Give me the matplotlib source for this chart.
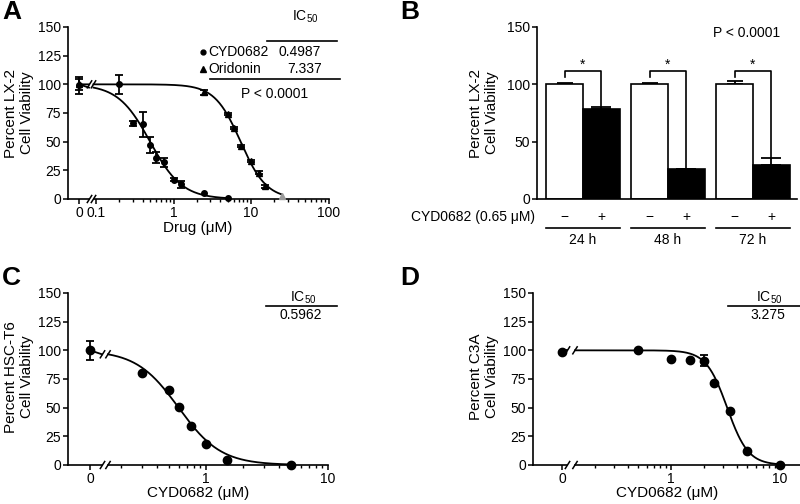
import numpy as np
import matplotlib
matplotlib.use("Agg")
from matplotlib import pyplot as plt
from matplotlib.lines import Line2D
from matplotlib.ticker import LogLocator, NullFormatter

plt.rcParams['font.family'] = ['Liberation Sans', 'DejaVu Sans']
plt.rcParams['mathtext.fontset'] = 'custom'
plt.rcParams['mathtext.rm'] = 'Liberation Sans'
plt.rcParams['axes.linewidth'] = 1.2

# ---------------- data ----------------
# A: LX-2 dose response (uM, % viability, error)
a_cyd_conc = [0, 0.2, 0.3, 0.4, 0.5, 0.6, 0.75, 1.0, 1.25, 2.5, 5]
a_cyd_mean = [99, 100, 66, 65, 47, 36, 32, 17, 13, 5, 0.5]
a_cyd_err = [7, 8, 2, 11, 7, 5, 4, 1.5, 3, 0, 0]
a_ori_conc = [0, 2.5, 5, 6, 7.5, 10, 12.5, 15, 25]
a_ori_mean = [100, 93, 74, 62, 46, 33, 23, 11, 3]
a_ori_err = [5, 2, 1, 1, 1, 1, 1, 1, 0]
a_ori_color = ['k', 'k', 'k', 'k', 'k', 'k', 'k', 'k', '#9a9a9a']
a_names = ["CYD0682", "Oridonin"]
a_ic50 = [0.4987, 7.337]
a_hill = [2.1, 2.6]
a_fit_end = [5, 25]

# B: LX-2, CYD0682 0.65 uM over time
b_times = ["24 h", "48 h", "72 h"]
b_ctrl_mean = [100, 100, 100]
b_ctrl_err = [1, 1.5, 3]
b_trt_mean = [78.5, 26, 30]
b_trt_err = [2, 0.5, 6]

# C: HSC-T6
c_conc = [0, 0.3, 0.5, 0.6, 0.75, 1.0, 1.5, 5]
c_mean = [100, 80.5, 65, 51, 34, 18, 4.5, 0]
c_err = [8, 0, 0, 0, 0, 0, 0, 0]
c_ic50 = 0.5962
c_hill = 2.5

# D: C3A
d_conc = [0, 0.5, 1, 1.5, 2, 2.5, 3.5, 5, 10]
d_mean = [98.5, 100.5, 92.5, 92, 91, 71.5, 47.5, 12, 0]
d_err = [0, 0, 0, 0, 5, 0, 0, 0, 0]
d_ic50 = 3.275
d_hill = 4.5

# ---------------- helpers ----------------
W, H = 800, 504
fig = plt.figure(figsize=(8, 5.04), dpi=100)


def box(l, t, r, b):
    return [l / W, 1 - b / H, (r - l) / W, (b - t) / H]


def ftext(x, y, s, **kw):
    kw.setdefault('va', 'center')
    kw.setdefault('fontsize', 10)
    fig.text(x / W, 1 - y / H, s, **kw)


def fline(xs, ys, lw=1.2, **kw):
    fig.add_artist(Line2D([x / W for x in xs], [1 - y / H for y in ys],
                          transform=fig.transFigure, color='k', lw=lw, **kw))


def slash(x, y):
    fline([x - 2.2, x + 2.2], [y + 3.5, y - 3.5], lw=1.1)


def fit(x, ic50, hill, top=100.0, bottom=0.0):
    return bottom + (top - bottom) / (1 + (x / ic50) ** hill)


def dose_axes(l, x0, zr, lr, r, top, bot, ref_px, ref_val, dec, ticks, labels):
    ax0 = fig.add_axes(box(l, top, zr, bot))
    ax0.set_xlim(-(x0 - l), zr - x0)
    ax1 = fig.add_axes(box(lr, top, r, bot))
    ax1.set_xscale('log')
    lo = 10 ** (np.log10(ref_val) - (ref_px - lr) / dec)
    hi = 10 ** (np.log10(ref_val) + (r - ref_px) / dec)
    ax1.set_xlim(lo, hi)
    for ax in (ax0, ax1):
        ax.set_ylim(0, 150)
        ax.patch.set_alpha(0)
        ax.spines['top'].set_visible(False)
        ax.spines['right'].set_visible(False)
        ax.tick_params(direction='out', length=3.5, width=1.1, labelsize=10, pad=1.5)
    ax0.set_xticks([0])
    ax0.set_xticklabels(['0'])
    ax0.set_yticks([0, 25, 50, 75, 100, 125, 150])
    ax1.spines['left'].set_visible(False)
    ax1.set_yticks([])
    ax1.set_xticks(ticks)
    ax1.set_xticklabels(labels)
    ax1.xaxis.set_minor_locator(LogLocator(base=10, subs=np.arange(2, 10)))
    ax1.xaxis.set_minor_formatter(NullFormatter())
    ax1.tick_params(which='minor', direction='out', length=2.2, width=1)
    slash(zr + 0.5, bot)
    slash(lr, bot)
    return ax0, ax1, lo


def points(ax0, ax1, conc, mean, err, marker, ms, colors=None):
    conc = np.array(conc, dtype=float)
    mean = np.array(mean, dtype=float)
    err = np.array(err, dtype=float)
    if colors is None:
        colors = ['k'] * len(conc)
    for c, m, e, col in zip(conc, mean, err, colors):
        ax = ax0 if c == 0 else ax1
        if e > 0:
            ax.errorbar([c], [m], yerr=[e], fmt='none', ecolor=col, elinewidth=1.3,
                        capsize=3, capthick=1.3, clip_on=False, zorder=3)
        ax.plot([c], [m], marker=marker, ms=ms, color=col, ls='none',
                clip_on=False, zorder=4)


def curve(ax0, ax1, lo, end, ic50, hill, zr_span, top, bot, zr, lr, breaks=True):
    xs = np.logspace(np.log10(lo), np.log10(end), 300)
    ax1.plot(xs, fit(xs, ic50, hill), color='k', lw=1.3, clip_on=False, zorder=2)
    ax0.plot([0, zr_span], [100, fit(lo, ic50, hill)], color='k', lw=1.3,
             clip_on=False, zorder=2)
    if breaks:
        ypx = top + (150 - fit(lo, ic50, hill)) / 150 * (bot - top)
        slash(zr + 0.5, ypx)
        slash(lr, ypx)


# ---------------- panel A ----------------
a0, a1, a_lo = dose_axes(68, 79, 89, 93.5, 328.5, 27, 199, 96, 0.1, 77.5,
                         [0.1, 1, 10, 100], ['0.1', '1', '10', '100'])
for i in range(2):
    curve(a0, a1, a_lo, a_fit_end[i], a_ic50[i], a_hill[i], 10, 27, 199, 89, 93.5,
          breaks=(i == 1))
points(a0, a1, a_cyd_conc, a_cyd_mean, a_cyd_err, 'o', 4)
points(a0, a1, a_ori_conc, a_ori_mean, a_ori_err, '^', 5, a_ori_color)

ftext(2, 12, "A", fontsize=19, fontweight='bold', ha='left')
ftext(19, 113, "Percent LX-2\nCell Viability", rotation=90, ha='center',
      fontsize=11, linespacing=1.1, multialignment='center')
ftext(198, 228, "Drug (\u03bcM)", ha='center', fontsize=11)
ftext(305, 17, r"IC$_{50}$", ha='center')
fline([267, 337], [41, 41])
fig.add_artist(Line2D([203 / W], [1 - 52 / H], marker='o', ms=3.5, color='k',
                      transform=fig.transFigure))
fig.add_artist(Line2D([203 / W], [1 - 69 / H], marker='^', ms=4.5, color='k',
                      transform=fig.transFigure))
ftext(208, 52, a_names[0], ha='left')
ftext(321, 52, str(a_ic50[0]), ha='right')
ftext(208, 69, a_names[1], ha='left')
ftext(322, 69, str(a_ic50[1]), ha='right')
fline([210, 340], [79, 79])
ftext(275, 94, "P < 0.0001", ha='center')

# ---------------- panel B ----------------
axb = fig.add_axes(box(537, 27, 797, 199))
xb = np.arange(len(b_times))
w = 0.435
axb.bar(xb - w / 2, b_ctrl_mean, w, color='white', edgecolor='k', lw=1.2, zorder=2)
axb.bar(xb + w / 2, b_trt_mean, w, color='black', edgecolor='k', lw=1.2, zorder=2)
axb.errorbar(xb - w / 2, b_ctrl_mean, yerr=[np.zeros(3), b_ctrl_err], fmt='none',
             ecolor='k', elinewidth=1.3, capsize=6, capthick=1.3, zorder=1)
axb.errorbar(xb + w / 2, b_trt_mean, yerr=[np.zeros(3), b_trt_err], fmt='none',
             ecolor='k', elinewidth=1.3, capsize=7, capthick=1.3, zorder=3)
axb.set_xlim((537 - 583) / 85, (797 - 583) / 85)
axb.set_ylim(0, 150)
axb.set_yticks([0, 50, 100, 150])
axb.set_xticks([])
axb.spines['top'].set_visible(False)
axb.spines['right'].set_visible(False)
axb.tick_params(direction='out', length=3.5, width=1.1, labelsize=10, pad=1.5)
tr = axb.get_xaxis_transform()
for i in range(3):
    xl, xr = i - w / 2, i + w / 2
    axb.plot([xl, xl, xr, xr], [106.5, 112, 112, b_trt_mean[i] + b_trt_err[i]],
             color='k', lw=1.2, zorder=4)
    axb.text(i, 117, "*", ha='center', va='center', fontsize=10)
    axb.text(xl, -0.105, "\u2212", transform=tr, ha='center', va='center', fontsize=10)
    axb.text(xr, -0.105, "+", transform=tr, ha='center', va='center', fontsize=10)
    axb.plot([i - 0.435, i + 0.435], [-0.169, -0.169], transform=tr, color='k',
             lw=1.2, clip_on=False)
    axb.text(i, -0.238, b_times[i], transform=tr, ha='center', va='center', fontsize=10)

ftext(400, 12, "B", fontsize=19, fontweight='bold', ha='left')
ftext(484, 113, "Percent LX-2\nCell Viability", rotation=90, ha='center',
      fontsize=11, linespacing=1.1, multialignment='center')
ftext(535, 217, "CYD0682 (0.65 \u03bcM)", ha='right')
ftext(747, 33, "P < 0.0001", ha='center')

# ---------------- panel C ----------------
c0, c1, c_lo = dose_axes(68, 90, 102, 108, 328, 293, 465, 206, 1, 122,
                         [1, 10], ['1', '10'])
curve(c0, c1, c_lo, 5, c_ic50, c_hill, 12, 293, 465, 102, 108)
points(c0, c1, c_conc, c_mean, c_err, 'o', 6)
ftext(2, 278, "C", fontsize=19, fontweight='bold', ha='left')
ftext(19, 377, "Percent HSC-T6\nCell Viability", rotation=90, ha='center',
      fontsize=11, linespacing=1.1, multialignment='center')
ftext(198, 493, "CYD0682 (\u03bcM)", ha='center', fontsize=11)
ftext(303, 298, r"IC$_{50}$", ha='center')
fline([266, 337], [306, 306])
ftext(301, 315, str(c_ic50), ha='center')

# ---------------- panel D ----------------
d0, d1, d_lo = dose_axes(533, 562, 567, 575, 800, 293, 465, 671, 1, 109,
                         [1, 10], ['1', '10'])
curve(d0, d1, d_lo, 10, d_ic50, d_hill, 5, 293, 465, 567, 575)
points(d0, d1, d_conc, d_mean, d_err, 'o', 6)
ftext(400, 278, "D", fontsize=19, fontweight='bold', ha='left')
ftext(484, 377, "Percent C3A\nCell Viability", rotation=90, ha='center',
      fontsize=11, linespacing=1.1, multialignment='center')
ftext(667, 493, "CYD0682 (\u03bcM)", ha='center', fontsize=11)
ftext(769, 298, r"IC$_{50}$", ha='center')
fline([728, 800], [306, 306])
ftext(768, 315, str(d_ic50), ha='center')

fig.savefig("out.png", dpi=100)
